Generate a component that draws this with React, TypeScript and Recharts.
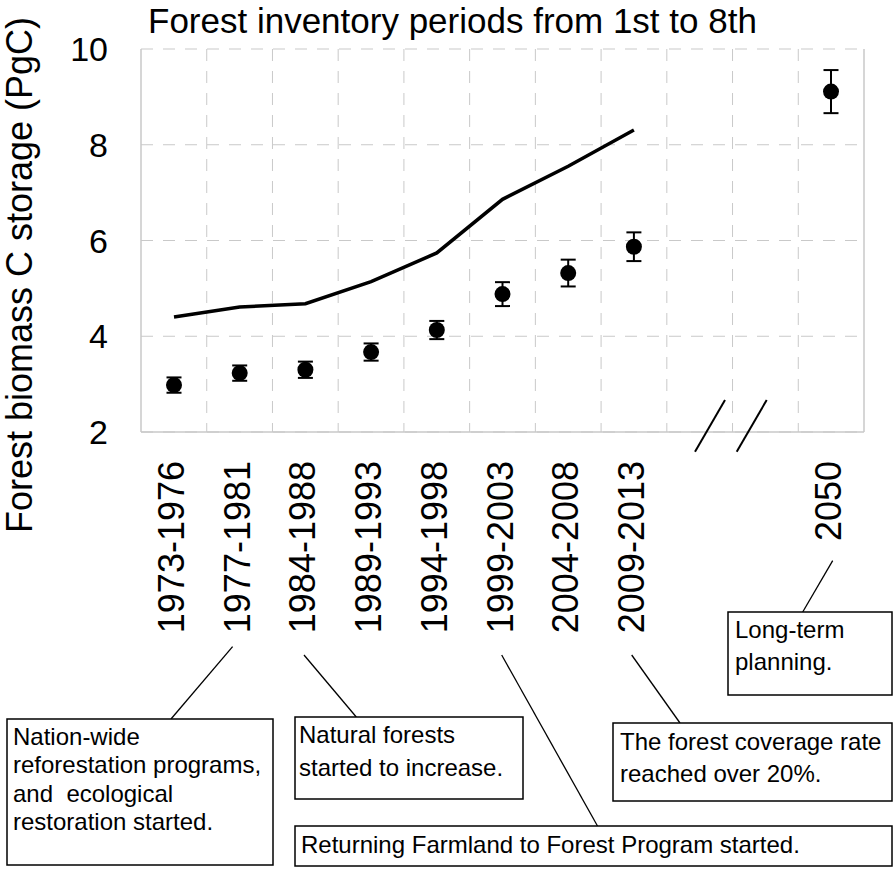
import React from 'react';
import {
  ComposedChart,
  Line,
  XAxis,
  YAxis,
  CartesianGrid,
  ErrorBar,
} from 'recharts';

// inventory periods, two empty slots stand for the axis break before 2050
const periods = [
  '1973-1976',
  '1977-1981',
  '1984-1988',
  '1989-1993',
  '1994-1998',
  '1999-2003',
  '2004-2008',
  '2009-2013',
  '',
  '',
  '2050',
];
const totalStorage = [4.4, 4.61, 4.68, 5.14, 5.74, 6.86, 7.55, 8.31, null, null, null];
const meanStorage = [2.98, 3.23, 3.3, 3.67, 4.13, 4.88, 5.32, 5.87, null, null, 9.11];
const storageError = [0.16, 0.16, 0.17, 0.18, 0.19, 0.25, 0.28, 0.3, null, null, 0.45];
const yTicks = [2, 4, 6, 8, 10];

const chartData = periods.map((period, i) => ({
  period,
  total: totalStorage[i],
  mean: meanStorage[i],
  err: storageError[i],
}));

const FONT = '"Liberation Sans", Arial, Helvetica, sans-serif';
const GRID = '#c9c9c9';
const SLOT_PAD = 33; // half of one category slot, keeps points centred in their cells

const PeriodTick = (props: any) => {
  const { x, y, payload } = props;
  if (!payload?.value) return null;
  return (
    <text
      x={x}
      y={y}
      transform={`rotate(-90, ${x}, ${y})`}
      textAnchor="end"
      dy="0.28em"
      fontSize={36}
      fontFamily={FONT}
      fill="#000"
    >
      {payload.value}
    </text>
  );
};

// annotation boxes under the axis
const notes = [
  { x: 7, y: 719, w: 266, h: 146, tx: 13, lines: ['Nation-wide', 'reforestation programs,', 'and  ecological', 'restoration started.'], base: [745, 773, 801.5, 830] },
  { x: 295, y: 717, w: 228, h: 82, tx: 299, lines: ['Natural forests', 'started to increase.'], base: [743, 776] },
  { x: 295, y: 826, w: 597, h: 40, tx: 301, lines: ['Returning Farmland to Forest Program started.'], base: [853] },
  { x: 613, y: 723, w: 279, h: 78, tx: 620, lines: ['The forest coverage rate', 'reached over 20%.'], base: [750, 782] },
  { x: 728, y: 612, w: 164, h: 83, tx: 735, lines: ['Long-term', 'planning.'], base: [638, 670] },
];

const leaders = [
  [232.6, 646.7, 171, 719],
  [304, 655, 356.3, 717],
  [501.7, 655, 597.5, 826],
  [631.7, 655, 680, 723],
  [832.7, 560.7, 802.7, 612],
];

const breakMarks = [
  [725, 400, 695, 451.7],
  [766.7, 400, 736.7, 451.7],
];

const gridX = (args: any) => {
  const off = args?.offset;
  if (!off) return [];
  return periods.slice(1).map((_, i) => off.left + ((i + 1) * off.width) / periods.length);
};

export default function App() {
  return (
    <div style={{ position: 'absolute', left: 0, top: 0, width: 894, height: 870, background: '#fff' }}>
      <ComposedChart
        width={894}
        height={870}
        data={chartData}
        margin={{ top: 49, right: 29, left: 0, bottom: 218 }}
      >
        <CartesianGrid stroke={GRID} strokeDasharray="12 10" verticalCoordinatesGenerator={gridX} />
        <XAxis
          dataKey="period"
          interval={0}
          padding={{ left: SLOT_PAD, right: SLOT_PAD }}
          height={220}
          tick={<PeriodTick />}
          tickLine={false}
          tickSize={0}
          tickMargin={29}
          axisLine={{ stroke: GRID, strokeWidth: 1.5 }}
        />
        <YAxis
          domain={[2, 10]}
          ticks={yTicks}
          width={141}
          tickLine={false}
          tickSize={0}
          tickMargin={33}
          axisLine={{ stroke: GRID, strokeWidth: 1.5 }}
          tick={{ fontSize: 34, fontFamily: FONT, fill: '#000' }}
        />
        <YAxis
          yAxisId="right"
          orientation="right"
          domain={[2, 10]}
          width={1}
          tick={false}
          tickLine={false}
          axisLine={{ stroke: GRID, strokeWidth: 1.5 }}
        />
        <Line
          dataKey="total"
          stroke="#000"
          strokeWidth={3.5}
          dot={false}
          isAnimationActive={false}
        />
        <Line
          dataKey="mean"
          stroke="none"
          dot={{ r: 8, fill: '#000', stroke: '#000', strokeWidth: 0 }}
          isAnimationActive={false}
        >
          <ErrorBar dataKey="err" width={7.5} stroke="#000" strokeWidth={2} direction="y" />
        </Line>
      </ComposedChart>

      <svg
        width={894}
        height={870}
        style={{ position: 'absolute', left: 0, top: 0, pointerEvents: 'none' }}
        fontFamily={FONT}
      >
        <text x={148} y={33} fontSize={35} fill="#000">
          Forest inventory periods from 1st to 8th
        </text>
        <text
          x={32}
          y={275}
          fontSize={36}
          fill="#000"
          textAnchor="middle"
          transform="rotate(-90, 32, 275)"
        >
          Forest biomass C storage (PgC)
        </text>
        {breakMarks.map((m, i) => (
          <line key={`b${i}`} x1={m[0]} y1={m[1]} x2={m[2]} y2={m[3]} stroke="#000" strokeWidth={2} />
        ))}
        {leaders.map((l, i) => (
          <line key={`l${i}`} x1={l[0]} y1={l[1]} x2={l[2]} y2={l[3]} stroke="#000" strokeWidth={1.3} />
        ))}
        {notes.map((n, i) => (
          <g key={`n${i}`}>
            <rect x={n.x} y={n.y} width={n.w} height={n.h} fill="#fff" stroke="#000" strokeWidth={1.5} />
            {n.lines.map((t, j) => (
              <text key={j} x={n.tx} y={n.base[j]} fontSize={24} fill="#000" style={{ whiteSpace: 'pre' }}>
                {t}
              </text>
            ))}
          </g>
        ))}
      </svg>
    </div>
  );
}
